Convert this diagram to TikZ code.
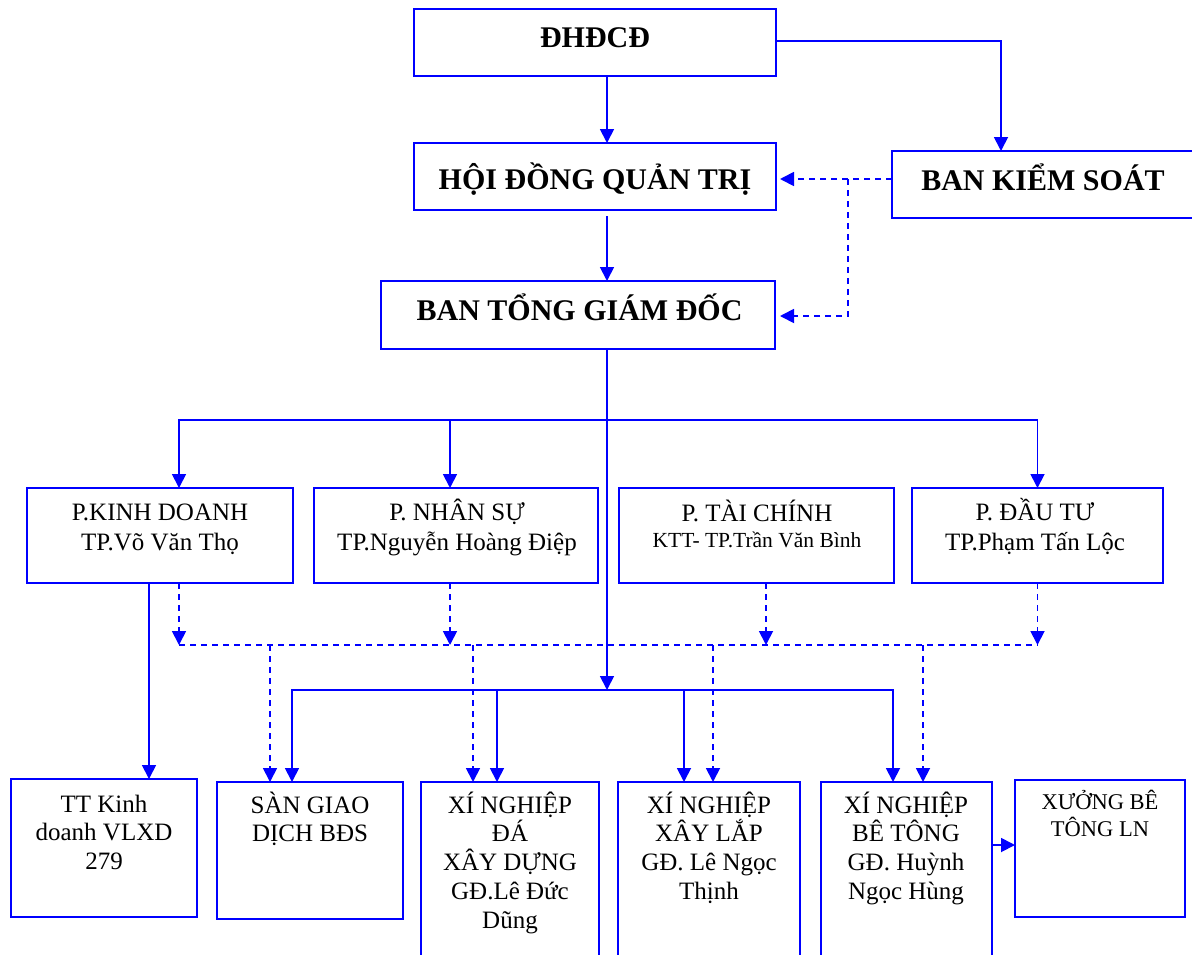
\documentclass[tikz,border=0pt]{standalone}
\usepackage{fontspec}
\setmainfont{Liberation Serif}
\usetikzlibrary{arrows.meta}
\definecolor{bl}{RGB}{0,0,255}
\begin{document}
\begin{tikzpicture}[x=1pt,y=-1pt,
 box/.style={draw=bl,line width=2.2pt,inner sep=0pt,outer sep=0pt},
 line/.style={draw=bl,line width=1.8pt},
 arr/.style={line,-{Triangle[length=14pt,width=14pt]}},
 dline/.style={line,dash pattern=on 6pt off 5pt},
 darr/.style={dline,-{Triangle[length=14pt,width=14pt]}},
 head/.style={font=\fontsize{30}{35}\selectfont\bfseries,anchor=base,inner sep=0pt},
 dept/.style={font=\fontsize{25}{29.5}\selectfont,anchor=base,inner sep=0pt,align=center},
 small/.style={font=\fontsize{21.5}{26}\selectfont,anchor=base,inner sep=0pt},
 low/.style={font=\fontsize{25}{28.8}\selectfont,anchor=base,inner sep=0pt,align=center},
]
\useasboundingbox[fill=white] (0,0) rectangle (1192,954);

% boxes
\node[box,minimum width=362pt,minimum height=67pt] (dhdcd) at (595,42.5) {};
\node[box,minimum width=362pt,minimum height=67pt] (hdqt) at (595,176.5) {};
\node[box,minimum width=308pt,minimum height=67pt] (bks) at (1046,184.5) {};
\node[box,minimum width=394pt,minimum height=68pt] (btgd) at (578,315) {};
\node[box,minimum width=266pt,minimum height=95pt] (pkd) at (160,535.5) {};
\node[box,minimum width=284pt,minimum height=95pt] (pns) at (456,535.5) {};
\node[box,minimum width=275pt,minimum height=95pt] (ptc) at (756.5,535.5) {};
\node[box,minimum width=251pt,minimum height=95pt] (pdt) at (1037.5,535.5) {};
\node[box,minimum width=186pt,minimum height=138pt] (tt) at (104,848) {};
\node[box,minimum width=186pt,minimum height=137pt] (san) at (310,850.5) {};
\node[box,minimum width=178pt,minimum height=218pt] (xnda) at (510,891) {};
\node[box,minimum width=182pt,minimum height=218pt] (xnxl) at (709,891) {};
\node[box,minimum width=171pt,minimum height=218pt] (xnbt) at (906.5,891) {};
\node[box,minimum width=170pt,minimum height=137pt] (xuong) at (1100,848.5) {};

% texts (base anchor = baseline of the last line)
\node[head] (t1) at (595,47) {ĐHĐCĐ};
\node[head] (t2) at (595,189) {HỘI ĐỒNG QUẢN TRỊ};
\node[head] (t3) at (1043,190) {BAN KIỂM SOÁT};
\node[head] (t4) at (579.5,320) {BAN TỔNG GIÁM ĐỐC};
\node[dept] (t5) at (160,550) {P.KINH DOANH\\TP.Võ Văn Thọ};
\node[dept] (t6) at (457,550) {P. NHÂN SỰ\\TP.Nguyễn Hoàng Điệp};
\node[dept] (t7) at (757,521) {P. TÀI CHÍNH};
\node[small] (t7b) at (757,547) {KTT- TP.Trần Văn Bình};
\node[dept] (t8) at (1035,550) {P. ĐẦU TƯ\\TP.Phạm Tấn Lộc};
\node[low] (t9) at (104,869.6) {TT Kinh\\doanh VLXD\\279};
\node[low] (t10) at (310,841.8) {SÀN GIAO\\DỊCH BĐS};
\node[low] (t11) at (510,928.2) {XÍ NGHIỆP\\ĐÁ\\XÂY DỰNG\\GĐ.Lê Đức\\Dũng};
\node[low] (t12) at (709,899.4) {XÍ NGHIỆP\\XÂY LẮP\\GĐ. Lê Ngọc\\Thịnh};
\node[low] (t13) at (906,899.4) {XÍ NGHIỆP\\BÊ TÔNG\\GĐ. Huỳnh\\Ngọc Hùng};
\node[low,font=\fontsize{22.5}{27.5}\selectfont] (t14) at (1100,836.5) {XƯỞNG BÊ\\TÔNG LN};

% helper coordinates
\coordinate (bus1) at (607,420);
\coordinate (dbus) at (0,645);
\coordinate (bus2) at (607,690);
\coordinate (k1) at (848,179);
\coordinate (k2) at (0,845);

% top connectors
\draw[arr] ([xshift=12pt]dhdcd.south) -- ([xshift=12pt]hdqt.north);
\draw[arr] ([xshift=12pt,yshift=-6pt]hdqt.south) -- ([xshift=12pt]hdqt.south |- btgd.north);
\draw[arr] ([yshift=1.5pt]dhdcd.east) -| ([xshift=-45pt]bks.north);
\draw[darr,shorten >=4pt] (bks.west |- k1) -- (hdqt.east |- k1);
\draw[darr,shorten >=5pt] (k1) |- ([yshift=-1pt]btgd.east);

% main trunk
\draw[arr] ([xshift=29pt]btgd.south) -- (bus2);
\draw[arr] (bus1) -| ([xshift=19pt]pkd.north);
\draw[arr] (bus1) -| (pdt.north);
\draw[arr] ([xshift=-6pt]pns.north |- bus1) -- ([xshift=-6pt]pns.north);

% dashed coordination bus
\draw[darr] ([xshift=19pt]pkd.south) -- ([xshift=19pt]pkd.south |- dbus);
\draw[darr] ([xshift=-6pt]pns.south) -- ([xshift=-6pt]pns.south |- dbus);
\draw[darr] ([xshift=9.5pt]ptc.south) -- ([xshift=9.5pt]ptc.south |- dbus);
\draw[darr] (pdt.south) -- (pdt.south |- dbus);
\draw[dline] ([xshift=19pt]pkd.south |- dbus) -- (pdt.south |- dbus);
\draw[darr] ([xshift=-40pt]san.north |- dbus) -- ([xshift=-40pt]san.north);
\draw[darr] ([xshift=-37pt]xnda.north |- dbus) -- ([xshift=-37pt]xnda.north);
\draw[darr] ([xshift=4pt]xnxl.north |- dbus) -- ([xshift=4pt]xnxl.north);
\draw[darr] ([xshift=16.5pt]xnbt.north |- dbus) -- ([xshift=16.5pt]xnbt.north);

% lower solid bus
\draw[arr] (bus2) -| ([xshift=-18pt]san.north);
\draw[arr] (bus2) -| ([xshift=-13.5pt]xnbt.north);
\draw[arr] ([xshift=-13pt]xnda.north |- bus2) -- ([xshift=-13pt]xnda.north);
\draw[arr] ([xshift=-25pt]xnxl.north |- bus2) -- ([xshift=-25pt]xnxl.north);

% others
\draw[arr] ([xshift=-11pt]pkd.south) -- ([xshift=-11pt]pkd.south |- tt.north);
\draw[arr] (xnbt.east |- k2) -- (xuong.west |- k2);
\end{tikzpicture}
\end{document}
